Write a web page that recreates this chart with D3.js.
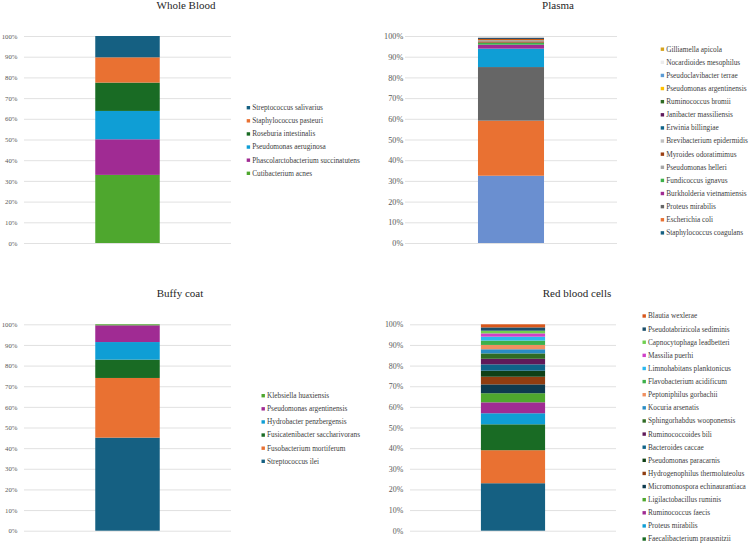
<!DOCTYPE html>
<html>
<head>
<meta charset="utf-8">
<script src="https://cdn.jsdelivr.net/npm/d3@7"></script>
<style>
  html, body { margin: 0; padding: 0; background: #fff; }
  svg { display: block; }
  text { font-family: "Liberation Serif", "Times New Roman", serif; }
</style>
</head>
<body>
<svg id="chart" width="750" height="544"></svg>
<script>
// ---------- DATA (stack order: bottom -> top) ----------
const yTicks = [0, 10, 20, 30, 40, 50, 60, 70, 80, 90, 100];

// Whole Blood
const wbSpecies = ["Cutibacterium acnes", "Phascolarctobacterium succinatutens", "Pseudomonas aeruginosa",
  "Roseburia intestinalis", "Staphylococcus pasteuri", "Streptococcus salivarius"];
const wbValues = [32.9, 17.2, 13.7, 13.7, 12.2, 10.3];
const wbColors = ["#4ea72e", "#a02b93", "#0f9ed5", "#196b24", "#e97132", "#156082"];

// Plasma (bar segments as drawn)
const plasmaSegValues = [32.5, 26.6, 25.9, 8.9, 1.9, 1.0, 0.6, 0.6, 0.6, 0.5, 0.5];
const plasmaSegColors = ["#6a8fd0", "#e97132", "#666666", "#0f9ed5", "#a02b93", "#3db04a",
  "#9a3e12", "#a6a6a6", "#c55a11", "#1b3f5f", "#cfcfcf"];
// Plasma legend (top -> bottom as printed)
const plasmaLegend = ["Gilliamella apicola", "Nocardioides mesophilus", "Pseudoclavibacter terrae",
  "Pseudomonas argentinensis", "Ruminococcus bromii", "Janibacter massiliensis", "Erwinia billingiae",
  "Brevibacterium epidermidis", "Myroides odoratimimus", "Pseudomonas helleri", "Fundicoccus ignavus",
  "Burkholderia vietnamiensis", "Proteus mirabilis", "Escherichia coli", "Staphylococcus coagulans"];
const plasmaLegendColors = ["#d6a31c", "#ececec", "#5b9bd5", "#ffc000", "#2f6b24", "#5f1a5c", "#0f6388",
  "#c0c0c0", "#9a3e12", "#a6a6a6", "#3db04a", "#a02b93", "#666666", "#e97132", "#156082"];

// Buffy coat
const bcSpecies = ["Streptococcus ilei", "Fusobacterium mortiferum", "Fusicatenibacter saccharivorans",
  "Hydrobacter penzbergensis", "Pseudomonas argentinensis", "Klebsiella huaxiensis"];
const bcValues = [45.1, 28.9, 8.9, 8.5, 8.1, 0.5];
const bcColors = ["#156082", "#e97132", "#196b24", "#0f9ed5", "#a02b93", "#4ea72e"];

// Red blood cells (two lowest series have legend entries outside the picture)
const rbcSpecies = ["", "", "Faecalibacterium prausnitzii", "Proteus mirabilis", "Ruminococcus faecis",
  "Ligilactobacillus ruminis", "Micromonospora echinaurantiaca", "Hydrogenophilus thermoluteolus",
  "Pseudomonas paracarnis", "Bacteroides caccae", "Ruminococcoides bili", "Sphingorhabdus wooponensis",
  "Kocuria arsenatis", "Peptoniphilus gorbachii", "Flavobacterium acidificum", "Limnohabitans planktonicus",
  "Massilia puerhi", "Capnocytophaga leadbetteri", "Pseudotabrizicola sediminis", "Blautia wexlerae"];
const rbcValues = [23.0, 16.0, 12.55, 5.35, 5.3, 4.4, 4.3, 3.7, 2.9, 3.1, 2.7, 2.6, 2.0, 2.1, 2.1, 1.9, 1.6, 1.3, 1.6, 1.5];
const rbcColors = ["#156082", "#e97132", "#196b24", "#0f9ed5", "#a02b93", "#4ea72e", "#0d3a4e", "#8f3d10",
  "#0f4016", "#0f6388", "#601a59", "#2f6b24", "#2a8dc4", "#f09060", "#3db04a", "#2bb8ef", "#d040c8",
  "#70d050", "#1b4f6b", "#d8571c"];

// ---------- LAYOUT ----------
const panels = [
  { title: "Whole Blood", tx: 186, ty: 9, gx0: 24, gx1: 231, y0: 243, y1: 36, tickPad: 6.5, tickFont: 6.8,
    values: wbValues, colors: wbColors,
    legend: wbSpecies.slice().reverse(), legendColors: wbColors.slice().reverse(),
    lx: 246.7, ly: 107.7 },
  { title: "Plasma", tx: 558, ty: 9, gx0: 405, gx1: 617, y0: 243, y1: 36, tickPad: 1.8, tickFont: 8.2,
    values: plasmaSegValues, colors: plasmaSegColors,
    legend: plasmaLegend, legendColors: plasmaLegendColors,
    lx: 660.7, ly: 49.2 },
  { title: "Buffy coat", tx: 180, ty: 297, gx0: 24, gx1: 231, y0: 530.7, y1: 324.3, tickPad: 6.5, tickFont: 6.8,
    values: bcValues, colors: bcColors,
    legend: bcSpecies.slice().reverse(), legendColors: bcColors.slice().reverse(),
    lx: 261.5, ly: 395.7 },
  { title: "Red blood cells", tx: 577, ty: 296.5, gx0: 410, gx1: 616, y0: 530.7, y1: 324.3, tickPad: 6.7, tickFont: 7.9,
    values: rbcValues, colors: rbcColors,
    legend: rbcSpecies.slice().reverse(), legendColors: rbcColors.slice().reverse(),
    lx: 642.5, ly: 316.0 }
];

const svg = d3.select("#chart");
const legendStep = 13.12;

panels.forEach(p => {
  const g = svg.append("g");
  const y = d3.scaleLinear().domain([0, 100]).range([p.y0, p.y1]);
  const x = d3.scaleBand().domain([p.title]).range([p.gx0, p.gx1]).padding(0.525);

  // gridlines + tick labels
  const axis = d3.axisLeft(y).tickValues(yTicks).tickFormat(d => d + "%")
    .tickSize(-(p.gx1 - p.gx0)).tickPadding(p.tickPad);
  const ag = g.append("g").attr("transform", `translate(${p.gx0},0)`).call(axis);
  ag.select(".domain").remove();
  ag.selectAll(".tick line").attr("stroke", "#d9d9d9").attr("stroke-width", 0.8);
  ag.selectAll(".tick text").attr("fill", "#595959")
    .style("font-family", '"Liberation Serif", "Times New Roman", serif')
    .style("font-size", p.tickFont + "px");

  // stacked segments
  let acc = 0;
  const segs = p.values.map((v, i) => { const s = { lo: acc, hi: acc + v, c: p.colors[i] }; acc += v; return s; });
  g.append("g").selectAll("rect").data(segs).join("rect")
    .attr("x", x(p.title))
    .attr("width", x.bandwidth())
    .attr("y", d => y(d.hi))
    .attr("height", d => y(d.lo) - y(d.hi))
    .attr("fill", d => d.c);

  // title
  g.append("text").attr("x", p.tx).attr("y", p.ty).attr("text-anchor", "middle")
    .attr("fill", "#262626").style("font-size", "11px").text(p.title);

  // legend
  const items = p.legend.map((n, i) => ({ n, c: p.legendColors[i], i })).filter(d => d.n !== "");
  const lg = g.append("g").selectAll("g").data(items).join("g")
    .attr("transform", (d, k) => `translate(${p.lx},${p.ly + k * legendStep})`);
  lg.append("rect").attr("x", 0).attr("y", -1.7).attr("width", 3.4).attr("height", 3.4).attr("fill", d => d.c);
  lg.append("text").attr("x", 5.5).attr("y", 0).attr("dy", "0.33em")
    .attr("fill", "#404040").style("font-size", "7.3px").text(d => d.n);
});
</script>
</body>
</html>
